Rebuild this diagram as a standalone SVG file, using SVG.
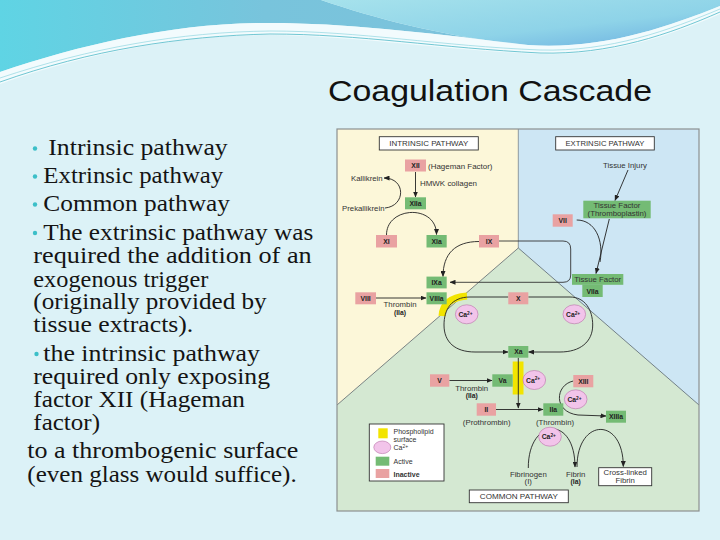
<svg xmlns="http://www.w3.org/2000/svg" width="720" height="540" viewBox="0 0 720 540">
<defs>
<linearGradient id="gl" x1="0" y1="0" x2="1" y2="0">
<stop offset="0" stop-color="#5fd4e4"/><stop offset="0.5" stop-color="#78c4dc"/><stop offset="1" stop-color="#7ec2dc"/>
</linearGradient>
<linearGradient id="gr" x1="0" y1="0" x2="1" y2="1">
<stop offset="0" stop-color="#a6e2ec"/><stop offset="0.6" stop-color="#8ed3e8"/><stop offset="1" stop-color="#6aaee0"/>
</linearGradient>
<marker id="ah" markerUnits="userSpaceOnUse" markerWidth="6" markerHeight="5" refX="5.5" refY="2.5" orient="auto">
<path d="M0,0 L6,2.5 L0,5 Z" fill="#222"/>
</marker>
<style>
.ib{fill:#e9a2a2}
.ab{fill:#74bb74}
.t{font-family:"Liberation Sans",Arial,sans-serif;font-size:7.8px;fill:#333}
.b{font-family:"Liberation Sans",Arial,sans-serif;font-size:6.8px;font-weight:bold;fill:#222;text-anchor:middle}
.m{text-anchor:middle}
.ca{fill:#f2c4ea;stroke:#b870a8;stroke-width:0.6}
.cn{fill:none;stroke:#222;stroke-width:0.9;marker-end:url(#ah)}
.wb{fill:#fff;stroke:#333;stroke-width:0.9}
.s{font-family:"Liberation Serif","Times New Roman",serif;font-size:22.5px;fill:#141414}
.bu{fill:#3cbfc8}
.lg{font-size:7px}
</style>
</defs>
<rect x="0" y="0" width="720" height="540" fill="#dcf2f7"/>
<!-- header waves -->
<path d="M0,0 L321,0 C380,20 450,38 528,45 C430,33 340,22 260,23 C170,24 80,45 0,72 Z" fill="url(#gl)"/>
<path d="M321,0 C380,20 450,38 528,45 C600,50 665,28 720,6 L720,0 Z" fill="url(#gr)"/>
<path d="M0,72 C80,45 170,24 260,23 C340,22 430,33 528,45 C600,50 665,28 720,6 L720,14 C670,36 610,56 540,54 C440,50 360,36 270,35 C180,35 90,52 0,84 Z" fill="#f4fcfd" opacity="0.9"/>
<path d="M0,82 C90,50 180,36 270,34 C360,34 440,48 540,53 C610,55 670,34 720,12" fill="none" stroke="#4fb9c8" stroke-width="0.8"/>
<path d="M0,78 C90,48 180,32 270,31 C360,31 440,46 540,50 C610,52 670,30 720,9" fill="none" stroke="#7fd0dc" stroke-width="0.6"/>

<text x="328" y="101" font-family="'Liberation Sans',Arial,sans-serif" font-size="30" fill="#111" textLength="324" lengthAdjust="spacingAndGlyphs">Coagulation Cascade</text>

<!-- left text -->
<g id="bullets">
<circle class="bu" cx="35" cy="148.5" r="2.2"/>
<circle class="bu" cx="35" cy="176.5" r="2.2"/>
<circle class="bu" cx="35" cy="204.5" r="2.2"/>
<circle class="bu" cx="35" cy="233" r="2.2"/>
<circle class="bu" cx="36.5" cy="354" r="2.2"/>
<text class="s" x="48.3" y="155" textLength="179.4" lengthAdjust="spacingAndGlyphs">Intrinsic pathway</text>
<text class="s" x="43.3" y="183" textLength="180" lengthAdjust="spacingAndGlyphs">Extrinsic pathway</text>
<text class="s" x="43.3" y="211" textLength="186.7" lengthAdjust="spacingAndGlyphs">Common pathway</text>
<text class="s" x="43.3" y="239.5" textLength="270" lengthAdjust="spacingAndGlyphs">The extrinsic pathway was</text>
<text class="s" x="33.3" y="263" textLength="278.4" lengthAdjust="spacingAndGlyphs">required the addition of an</text>
<text class="s" x="33.3" y="286.5" textLength="175" lengthAdjust="spacingAndGlyphs">exogenous trigger</text>
<text class="s" x="33.3" y="309" textLength="233.4" lengthAdjust="spacingAndGlyphs">(originally provided by</text>
<text class="s" x="33.3" y="331.7" textLength="160" lengthAdjust="spacingAndGlyphs">tissue extracts).</text>
<text class="s" x="43.3" y="360.7" textLength="216.7" lengthAdjust="spacingAndGlyphs">the intrinsic pathway</text>
<text class="s" x="33.3" y="383.8" textLength="236.7" lengthAdjust="spacingAndGlyphs">required only exposing</text>
<text class="s" x="33.3" y="406.8" textLength="211.7" lengthAdjust="spacingAndGlyphs">factor XII (Hageman</text>
<text class="s" x="33.3" y="429.5" textLength="66.7" lengthAdjust="spacingAndGlyphs">factor)</text>
<text class="s" x="27.3" y="458.3" textLength="271" lengthAdjust="spacingAndGlyphs">to a thrombogenic surface</text>
<text class="s" x="27.3" y="481.7" textLength="269.4" lengthAdjust="spacingAndGlyphs">(even glass would suffice).</text>
</g>

<!-- diagram background -->
<g id="panel">
<rect x="337" y="129" width="362" height="382" fill="#fcf7d9"/>
<rect x="518.3" y="129" width="180.7" height="276" fill="#cde6f4"/>
<path d="M337,405 L518.3,248 L699,405 L699,511 L337,511 Z" fill="#d4e8d2"/>
<path d="M337,405 L518.3,248 L699,405" fill="none" stroke="#4a5560" stroke-width="0.7"/>
<line x1="518.3" y1="129" x2="518.3" y2="248" stroke="#6a7680" stroke-width="0.7"/>
<rect x="337" y="129" width="362" height="382" fill="none" stroke="#8c9090" stroke-width="1.2"/>
</g>

<!-- yellow phospholipid surfaces -->
<path d="M442,316 Q443,298 467,296" fill="none" stroke="#f2e400" stroke-width="7"/>
<rect x="512.7" y="361.5" width="10.8" height="33" fill="#f2e400"/>

<!-- connectors -->
<g id="connectors">
<path class="cn" d="M415.5,172 L415.5,197"/>
<path class="cn" d="M385,208 C406,206 406,178 384,178"/>
<path class="cn" d="M386.5,235 C386.5,206 436.5,204 436.5,234.5"/>
<path class="cn" d="M479,241.5 C455,241.5 443,254 443,276.5"/>
<path d="M499,241 L563,241 Q570.7,241 570.7,249 L570.7,275 Q570.7,282.3 563,282.3 L450,282.3" fill="none" stroke="#333" stroke-width="0.9" marker-end="url(#ah)"/>
<path class="cn" d="M628,170 L615,200.5"/>
<path class="cn" d="M609.3,219 L596,273.5"/>
<path fill="none" stroke="#222" stroke-width="0.9" d="M576.7,220 C595,220 604,240 600,262"/>
<path class="cn" d="M376,298 L426,298"/>
<path class="cn" d="M508.3,297 L470,297 C451,297 444,310 444,325 C444,342 455,352 475,352 L508,352"/>
<path class="cn" d="M528.3,297 L570,297 C585,297 592.7,310 592.7,325 C592.7,342 580,352 560,352 L528.5,352"/>
<path class="cn" d="M449.3,380.5 L492,380.5"/>
<path class="cn" d="M518.3,357.7 L518.3,408"/>
<path class="cn" d="M496,409.5 L543,409.5"/>
<path class="cn" d="M573.3,381 C555,385 553,412 578,415 L606,416"/>
<path class="cn" d="M528.3,468 C528,418 575,414 575,467"/>
<path class="cn" d="M577,467 C577,418 623.3,416 623.3,466.5"/>
</g>

<!-- calcium -->
<g id="calcium">
<g id="ca1"><ellipse class="ca" cx="466.7" cy="314.3" rx="11.3" ry="9.5"/><text class="b" x="465.5" y="316.8">Ca<tspan font-size="4.8" dy="-2.3">2+</tspan></text></g>
<g id="ca2"><ellipse class="ca" cx="574.3" cy="314.3" rx="11.3" ry="9.5"/><text class="b" x="573.1" y="316.8">Ca<tspan font-size="4.8" dy="-2.3">2+</tspan></text></g>
<g id="ca3"><ellipse class="ca" cx="534.3" cy="380" rx="11.3" ry="9.5"/><text class="b" x="533.1" y="382.5">Ca<tspan font-size="4.8" dy="-2.3">2+</tspan></text></g>
<g id="ca4"><ellipse class="ca" cx="575.7" cy="399.3" rx="11.3" ry="9.5"/><text class="b" x="574.5" y="401.8">Ca<tspan font-size="4.8" dy="-2.3">2+</tspan></text></g>
<g id="ca5"><ellipse class="ca" cx="550" cy="436.7" rx="11.3" ry="9.5"/><text class="b" x="548.8" y="439.2">Ca<tspan font-size="4.8" dy="-2.3">2+</tspan></text></g>
</g>

<!-- labels / nodes -->
<g id="intrinsic-label"><rect class="wb" x="379.3" y="136.7" width="99" height="13.3"/><text class="t m" x="428.8" y="146" font-size="7" textLength="79" lengthAdjust="spacingAndGlyphs">INTRINSIC PATHWAY</text></g>
<g id="extrinsic-label"><rect class="wb" x="555.7" y="136.7" width="98.6" height="13.3"/><text class="t m" x="605" y="146" font-size="7" textLength="79" lengthAdjust="spacingAndGlyphs">EXTRINSIC PATHWAY</text></g>
<g id="common-label"><rect class="wb" x="469.3" y="490" width="99" height="12.7"/><text class="t m" x="518.8" y="499" font-size="7" textLength="78" lengthAdjust="spacingAndGlyphs">COMMON PATHWAY</text></g>

<g id="n-XII"><rect class="ib" x="405" y="159.5" width="21" height="12"/><text class="b" x="415.5" y="168">XII</text></g>
<text class="t" x="428" y="168.5" textLength="64.5" lengthAdjust="spacingAndGlyphs">(Hageman Factor)</text>
<text class="t" x="351" y="180.7">Kallikrein</text>
<text class="t" x="420" y="186" textLength="57" lengthAdjust="spacingAndGlyphs">HMWK collagen</text>
<text class="t" x="342" y="210.5">Prekallikrein</text>
<g id="n-XIIa"><rect class="ab" x="405" y="197.3" width="21" height="12"/><text class="b" x="415.5" y="205.8">XIIa</text></g>
<g id="n-XI"><rect class="ib" x="376" y="235" width="21" height="12.5"/><text class="b" x="386.5" y="243.7">XI</text></g>
<g id="n-XIa"><rect class="ab" x="426.5" y="235" width="20.2" height="12.5"/><text class="b" x="436.6" y="243.7">XIa</text></g>
<g id="n-IX"><rect class="ib" x="479" y="235" width="20" height="12.5"/><text class="b" x="489" y="243.7">IX</text></g>
<g id="n-IXa"><rect class="ab" x="426.5" y="276.6" width="20.2" height="11.8"/><text class="b" x="436.6" y="285">IXa</text></g>
<g id="n-VIIIa"><rect class="ab" x="426.5" y="292.3" width="20.2" height="12"/><text class="b" x="436.6" y="300.8">VIIIa</text></g>
<g id="n-VIII"><rect class="ib" x="355.3" y="292.3" width="20.7" height="12"/><text class="b" x="365.6" y="300.8">VIII</text></g>
<text class="t m" x="400" y="306.5">Thrombin</text>
<text class="b" x="400" y="314.5" font-size="7.2">(IIa)</text>
<g id="n-X"><rect class="ib" x="508.3" y="292.3" width="20" height="12"/><text class="b" x="518.3" y="300.8">X</text></g>
<g id="n-Xa"><rect class="ab" x="508.3" y="346" width="20" height="11.7"/><text class="b" x="518.3" y="354.3">Xa</text></g>
<g id="n-V"><rect class="ib" x="430" y="374.3" width="19.3" height="12.4"/><text class="b" x="439.6" y="383">V</text></g>
<g id="n-Va"><rect class="ab" x="492.3" y="374.3" width="20.4" height="12.4"/><text class="b" x="502.5" y="383">Va</text></g>
<text class="t m" x="471.7" y="390.5">Thrombin</text>
<text class="b" x="471.7" y="398" font-size="7.2">(IIa)</text>
<g id="n-II"><rect class="ib" x="476.7" y="403.3" width="19.3" height="12.4"/><text class="b" x="486.3" y="412">II</text></g>
<text class="t m" x="486.7" y="424.5">(Prothrombin)</text>
<g id="n-IIa"><rect class="ab" x="543.3" y="403.3" width="20" height="12.4"/><text class="b" x="553.3" y="412">IIa</text></g>
<text class="t m" x="555" y="424.5">(Thrombin)</text>
<g id="n-XIII"><rect class="ib" x="573.3" y="375" width="20" height="12.3"/><text class="b" x="583.3" y="383.7">XIII</text></g>
<g id="n-XIIIa"><rect class="ab" x="606" y="410.7" width="20" height="12"/><text class="b" x="616" y="419.2">XIIIa</text></g>
<g id="n-fibrinogen"><text class="t m" x="528.3" y="476.5">Fibrinogen</text><text class="t m" x="528.3" y="484">(I)</text></g>
<g id="n-fibrin"><text class="t m" x="575.7" y="476.5">Fibrin</text><text class="b" x="575.7" y="484" font-size="7.2">(Ia)</text></g>
<g id="n-crosslinked"><rect class="wb" x="598.7" y="467.7" width="53" height="18"/><text class="t m" x="625.2" y="475">Cross-linked</text><text class="t m" x="625.2" y="483">Fibrin</text></g>

<text class="t m" x="625" y="167.5">Tissue Injury</text>
<g id="n-TF"><rect class="ab" x="583.3" y="200.7" width="67.4" height="17.6"/><text class="t m" x="617" y="208.2" fill="#234">Tissue Factor</text><text class="t m" x="617" y="215.7" fill="#234">(Thromboplastin)</text></g>
<g id="n-VII"><rect class="ib" x="552.7" y="214.3" width="20" height="12.4"/><text class="b" x="562.7" y="223">VII</text></g>
<g id="n-TFVIIa"><rect class="ab" x="572" y="274" width="51.3" height="10.8"/><rect class="ab" x="582.3" y="284.5" width="20.4" height="12.5"/><text class="t m" x="597.7" y="282" fill="#234">Tissue Factor</text><text class="b" x="592.5" y="293.5">VIIa</text></g>

<!-- legend -->
<g id="legend">
<rect class="wb" x="369.3" y="424" width="74.7" height="57"/>
<rect x="378.3" y="428.3" width="9.4" height="10" fill="#f2e400"/>
<ellipse class="ca" cx="382.3" cy="447.3" rx="8.5" ry="6.3"/>
<rect class="ab" x="375.7" y="456.7" width="13.6" height="9"/>
<rect class="ib" x="375.7" y="469" width="13.6" height="9"/>
<text class="t lg" x="393.5" y="433.8">Phospholipid</text>
<text class="t lg" x="393.5" y="441.5">surface</text>
<text class="t lg" x="393.5" y="450">Ca<tspan font-size="5" dy="-2.3">2+</tspan></text>
<text class="t lg" x="393.5" y="464">Active</text>
<text class="t lg" x="393.5" y="476.5" font-weight="bold">Inactive</text>
</g>
</svg>
